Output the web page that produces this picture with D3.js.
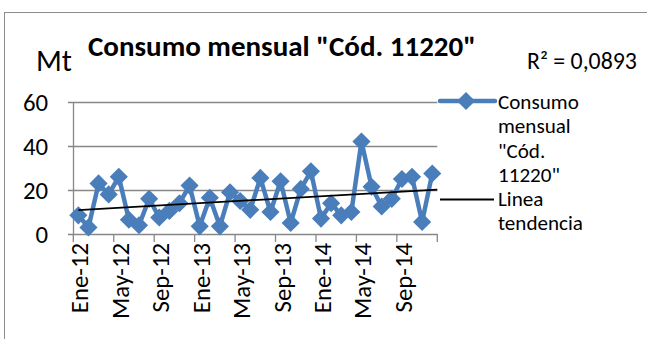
<!DOCTYPE html>
<html>
<head>
<meta charset="utf-8">
<script src="https://cdn.jsdelivr.net/npm/d3@7"></script>
<style>
  html, body { margin: 0; padding: 0; background: #fff; }
  svg { display: block; }
  text { font-family: Carlito, Calibri, "Open Sans", sans-serif; fill: #000; }
</style>
</head>
<body>
<svg id="chart" width="647" height="339"></svg>
<script>
// Monthly consumption, Ene-12 .. Dic-14
const monthNames = ["Ene","Feb","Mar","Abr","May","Jun","Jul","Ago","Sep","Oct","Nov","Dic"];
const years = ["12", "13", "14"];
const categories = years.flatMap(y => monthNames.map(m => m + "-" + y));
const consumo = [8.5, 3, 23, 18, 26, 6.5, 4, 16, 7.5, 10.5, 14, 22,
                 3.5, 16.5, 3.5, 19, 15, 11, 25.5, 10, 24, 5, 20.5, 28.5,
                 7, 14, 8.5, 10, 42, 21.5, 12.5, 16, 25, 26, 5.5, 27.5];
const yTicks = [0, 20, 40, 60];
const tickEvery = 4;
const titleText = "Consumo mensual \"Cód. 11220\"";
const unitText = "Mt";
const r2Text = "R² = 0,0893";
const legendSeries = ["Consumo", "mensual", "\"Cód.", "11220\""];
const legendTrend = ["Linea", "tendencia"];

const blue = "#4A7EBB";
const grid = "#878787";

const svg = d3.select("#chart");

// chart frame
svg.append("rect")
  .attr("x", 4.5).attr("y", 12.5).attr("width", 660).attr("height", 340)
  .attr("fill", "none").attr("stroke", "#8c8c8c").attr("stroke-width", 1);

const x = d3.scaleBand().domain(categories).range([73.3, 437.3]).padding(0);
const y = d3.scaleLinear().domain([0, 60]).range([234, 102]);
const cx = c => x(c) + x.bandwidth() / 2;

// helper: font size that makes a sample string span a given width
function sizeFor(sample, target, weight) {
  const t = svg.append("text").attr("font-size", 20).attr("font-weight", weight || "normal").text(sample);
  const w = t.node().getComputedTextLength();
  t.remove();
  return 20 * target / w;
}
const axisFs = sizeFor("May-12", 76);
const legendFs = sizeFor("tendencia", 85);

// horizontal gridlines
svg.append("g").selectAll("line").data(yTicks).join("line")
  .attr("x1", 68).attr("x2", 437.3)
  .attr("y1", d => Math.round(y(d)) + 0.5).attr("y2", d => Math.round(y(d)) + 0.5)
  .attr("stroke", grid).attr("stroke-width", 1.3);

// vertical axis line
svg.append("line")
  .attr("x1", 73.5).attr("x2", 73.5).attr("y1", y(60)).attr("y2", y(0))
  .attr("stroke", grid).attr("stroke-width", 1.3);

// y tick labels
svg.append("g").selectAll("text").data(yTicks).join("text")
  .attr("x", 48).attr("y", d => y(d))
  .attr("dy", "0.36em").attr("text-anchor", "end")
  .attr("font-size", axisFs).text(d => d);

// x tick marks at every fourth month boundary, plus the axis end
const tickCats = categories.filter((c, i) => i % tickEvery === 0);
const tickXs = tickCats.map(c => x(c)).concat([x.range()[1]]);
svg.append("g").selectAll("line").data(tickXs).join("line")
  .attr("x1", d => d).attr("x2", d => d)
  .attr("y1", y(0)).attr("y2", y(0) + 8)
  .attr("stroke", grid).attr("stroke-width", 1.3);

// x labels, rotated
svg.append("g").selectAll("text").data(tickCats).join("text")
  .attr("transform", c => `translate(${cx(c) + 1},${y(0) + 9}) rotate(-90)`)
  .attr("text-anchor", "end").attr("dy", "0.36em")
  .attr("font-size", axisFs).text(c => c);

// linear trend line (least squares on month index)
const n = consumo.length;
const xs = d3.range(n);
const mx = d3.mean(xs), my = d3.mean(consumo);
const slope = d3.sum(xs, i => (i - mx) * (consumo[i] - my)) / d3.sum(xs, i => (i - mx) ** 2);
const intercept = my - slope * mx;

// series line
const line = d3.line().x((d, i) => cx(categories[i])).y(d => y(d));
svg.append("path").datum(consumo)
  .attr("d", line).attr("fill", "none")
  .attr("stroke", blue).attr("stroke-width", 4.5).attr("stroke-linejoin", "round");

// diamond markers
const diamond = d3.symbol().type(d3.symbolDiamond2).size(210);
svg.append("g").selectAll("path").data(consumo).join("path")
  .attr("d", diamond)
  .attr("transform", (d, i) => `translate(${cx(categories[i])},${y(d)})`)
  .attr("fill", blue);

// trend line drawn above the series
svg.append("line")
  .attr("x1", cx(categories[0])).attr("y1", y(intercept))
  .attr("x2", x.range()[1]).attr("y2", y(intercept + slope * (n - 0.5)))
  .attr("stroke", "#000").attr("stroke-width", 1.8);

// title, unit and R² label
svg.append("text").attr("x", 88).attr("y", 56)
  .attr("font-size", sizeFor(titleText, 388, "bold")).attr("font-weight", "bold").text(titleText);
svg.append("text").attr("x", 36).attr("y", 71)
  .attr("font-size", sizeFor(unitText, 36)).text(unitText);
svg.append("text").attr("x", 527).attr("y", 69)
  .attr("font-size", sizeFor(r2Text, 110)).text(r2Text);

// legend
svg.append("line").attr("x1", 440).attr("x2", 495).attr("y1", 101).attr("y2", 101)
  .attr("stroke", blue).attr("stroke-width", 4.5).attr("stroke-linecap", "round");
svg.append("path").attr("d", diamond).attr("transform", "translate(466,101)").attr("fill", blue);
svg.append("g").selectAll("text").data(legendSeries).join("text")
  .attr("x", 498).attr("y", (d, i) => 109 + i * 24.3)
  .attr("font-size", legendFs).text(d => d);
svg.append("line").attr("x1", 440).attr("x2", 494).attr("y1", 199.5).attr("y2", 199.5)
  .attr("stroke", "#000").attr("stroke-width", 1.8);
svg.append("g").selectAll("text").data(legendTrend).join("text")
  .attr("x", 498).attr("y", (d, i) => 206 + i * 24.3)
  .attr("font-size", legendFs).text(d => d);
</script>
</body>
</html>
